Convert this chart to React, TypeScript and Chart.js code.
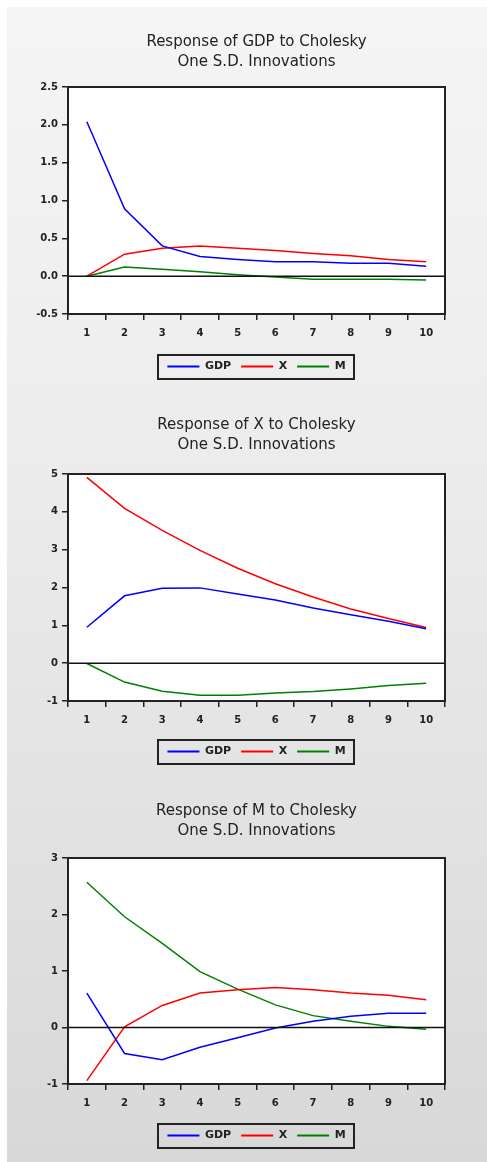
import React, { useEffect, useRef } from 'react';
import { Chart, registerables } from 'chart.js';

Chart.register(...registerables);

// ---------- data ----------
const periods = ['1', '2', '3', '4', '5', '6', '7', '8', '9', '10'];
const seriesNames = ['GDP', 'X', 'M'];
const seriesColors = ['#0000ff', '#ff0000', '#008000'];

// Response of GDP
const gdpToGdp = [2.04, 0.89, 0.40, 0.26, 0.22, 0.19, 0.19, 0.17, 0.17, 0.13];
const gdpToX = [0.0, 0.29, 0.37, 0.40, 0.37, 0.34, 0.30, 0.27, 0.22, 0.19];
const gdpToM = [0.0, 0.12, 0.09, 0.06, 0.02, -0.01, -0.04, -0.04, -0.04, -0.05];

// Response of X
const xToGdp = [0.95, 1.78, 1.98, 1.99, 1.83, 1.67, 1.46, 1.28, 1.11, 0.91];
const xToX = [4.91, 4.09, 3.51, 2.98, 2.51, 2.10, 1.75, 1.43, 1.18, 0.94];
const xToM = [-0.01, -0.50, -0.74, -0.85, -0.85, -0.79, -0.75, -0.68, -0.59, -0.53];

// Response of M
const mToGdp = [0.61, -0.46, -0.57, -0.35, -0.18, -0.01, 0.11, 0.20, 0.25, 0.25];
const mToX = [-0.94, 0.01, 0.39, 0.61, 0.67, 0.71, 0.67, 0.61, 0.57, 0.49];
const mToM = [2.57, 1.96, 1.49, 0.99, 0.68, 0.40, 0.21, 0.11, 0.02, -0.03];

// y-axis tick settings [min, max, step, decimals]
const gdpAxis = [-0.5, 2.5, 0.5, 1];
const xAxis = [-1, 5, 1, 0];
const mAxis = [-1, 3, 1, 0];

const titleGdp = ['Response of GDP to Cholesky', 'One S.D. Innovations'];
const titleX = ['Response of X to Cholesky', 'One S.D. Innovations'];
const titleM = ['Response of M to Cholesky', 'One S.D. Innovations'];

const FONT = "'DejaVu Sans', 'Liberation Sans', Arial, sans-serif";
const INK = '#222';

const framePlugin = {
  id: 'eviewsFrame',
  beforeDraw(chart: any) {
    const { ctx, chartArea: a } = chart;
    ctx.save();
    ctx.fillStyle = '#ffffff';
    ctx.fillRect(a.left, a.top, a.right - a.left, a.bottom - a.top);
    ctx.restore();
  },
  afterDatasetsDraw(chart: any) {
    const { ctx, chartArea: a, scales } = chart;
    const y0 = scales.y.getPixelForValue(0);
    ctx.save();
    ctx.strokeStyle = '#111';
    ctx.lineWidth = 1.5;
    ctx.beginPath();
    ctx.moveTo(a.left, y0);
    ctx.lineTo(a.right, y0);
    ctx.stroke();
    ctx.lineWidth = 2;
    ctx.strokeStyle = INK;
    ctx.strokeRect(a.left, a.top, a.right - a.left, a.bottom - a.top);
    ctx.restore();
  },
  afterDraw(chart: any) {
    const boxes = chart.legend && chart.legend.legendHitBoxes;
    if (!boxes || !boxes.length) return;
    let l = Infinity, r = -Infinity, cy = 0;
    boxes.forEach((b: any) => {
      l = Math.min(l, b.left);
      r = Math.max(r, b.left + b.width);
      cy = b.top + b.height / 2;
    });
    const { ctx } = chart;
    ctx.save();
    ctx.strokeStyle = INK;
    ctx.lineWidth = 2;
    ctx.strokeRect(Math.round(l - 9), Math.round(cy - 12), Math.round(r - l + 18), 24);
    ctx.restore();
  },
};

type PanelProps = {
  title: string[];
  series: number[][];
  axis: number[];
  top: number;
  height: number;
  titleGap: number;
  legendGap: number;
};

function Panel({ title, series, axis, top, height, titleGap, legendGap }: PanelProps) {
  const ref = useRef<HTMLCanvasElement | null>(null);
  useEffect(() => {
    if (!ref.current) return;
    const [ymin, ymax, ystep, dec] = axis;
    const chart = new Chart(ref.current, {
      type: 'line',
      data: {
        labels: periods,
        datasets: series.map((vals, i) => ({
          label: seriesNames[i],
          data: vals,
          borderColor: seriesColors[i],
          backgroundColor: seriesColors[i],
          borderWidth: 1.5,
          pointRadius: 0,
          tension: 0,
          fill: false,
        })),
      },
      options: {
        animation: false,
        responsive: false,
        layout: { padding: { left: 0, right: 42, top: 0, bottom: 0 } },
        plugins: {
          tooltip: { enabled: false },
          title: {
            display: true,
            text: title,
            fullSize: false,
            color: INK,
            font: { family: FONT, size: 15, weight: 'normal', lineHeight: 1.3333 },
            padding: { top: 4, bottom: titleGap },
          },
          legend: {
            position: 'bottom',
            fullSize: false,
            labels: {
              usePointStyle: true,
              pointStyle: 'line',
              pointStyleWidth: 32,
              padding: 10,
              color: INK,
              font: { family: FONT, size: 11, weight: 'bold' },
              generateLabels: (c: any) =>
                Chart.defaults.plugins.legend.labels
                  .generateLabels(c)
                  .map((it: any) => ({ ...it, lineWidth: 2 })),
            },
          },
        },
        scales: {
          x: {
            type: 'category',
            offset: true,
            grid: {
              offset: true,
              drawOnChartArea: false,
              tickLength: 6,
              color: INK,
              tickColor: INK,
              lineWidth: 1.5,
            },
            border: { display: true, color: INK, width: 2 },
            ticks: {
              color: INK,
              padding: 7,
              maxRotation: 0,
              font: { family: FONT, size: 10, weight: 'bold' },
            },
            afterFit: (s: any) => {
              s.height += legendGap;
            },
          },
          y: {
            min: ymin,
            max: ymax,
            grid: {
              drawOnChartArea: false,
              tickLength: 6,
              color: INK,
              tickColor: INK,
              lineWidth: 1.5,
            },
            border: { display: true, color: INK, width: 2 },
            ticks: {
              stepSize: ystep,
              color: INK,
              padding: 4,
              font: { family: FONT, size: 10, weight: 'bold' },
              callback: (v: any) => Number(v).toFixed(dec),
            },
            afterFit: (s: any) => {
              s.width = 61;
            },
          },
        },
      },
      plugins: [framePlugin],
    } as any);
    return () => chart.destroy();
  }, []);
  return (
    <canvas
      ref={ref}
      width={480}
      height={height}
      style={{ position: 'absolute', left: 0, top, width: 480, height, display: 'block' }}
    />
  );
}

export default function App() {
  return (
    <div
      style={{
        position: 'absolute',
        left: 7,
        top: 7,
        width: 480,
        height: 1155,
        background: 'linear-gradient(to bottom, #f5f5f5 0%, #ececec 40%, #d8d8d8 100%)',
        overflow: 'hidden',
      }}
    >
      <Panel title={titleGdp} series={[gdpToGdp, gdpToX, gdpToM]} axis={gdpAxis} top={21} height={354} titleGap={15} legendGap={5} />
      <Panel title={titleX} series={[xToGdp, xToX, xToM]} axis={xAxis} top={404} height={356} titleGap={19} legendGap={3} />
      <Panel title={titleM} series={[mToGdp, mToX, mToM]} axis={mAxis} top={790} height={354} titleGap={17} legendGap={4} />
    </div>
  );
}
